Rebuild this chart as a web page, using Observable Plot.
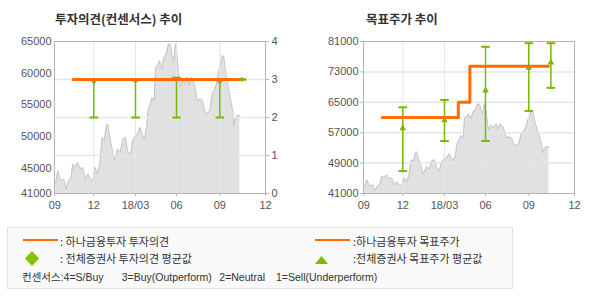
<!DOCTYPE html>
<html><head><meta charset="utf-8">
<script src="https://cdn.jsdelivr.net/npm/d3@7"></script>
<script src="https://cdn.jsdelivr.net/npm/@observablehq/plot@0.6"></script>
<style>
body{margin:0;background:#fff;}
#wrap{position:relative;width:590px;height:300px;overflow:hidden;font-family:"Noto Sans CJK KR","Noto Sans",sans-serif;color:#333;}
.abs{position:absolute;}
.title{font-weight:bold;font-size:12.5px;color:#333;top:11px;white-space:nowrap;line-height:16px;}
.lg{font-size:11px;line-height:13px;white-space:nowrap;color:#333;}
.lg3{font-size:10.5px;line-height:13px;white-space:nowrap;color:#333;font-family:"Liberation Sans","Noto Sans CJK KR",sans-serif;}
</style></head>
<body>
<div id="wrap">
  <div class="abs title" style="left:55px;">투자의견(컨센서스) 추이</div>
  <div class="abs title" style="left:366px;">목표주가 추이</div>
  <div id="leftBase" class="abs" style="left:0;top:0;"></div>
  <div id="leftTop" class="abs" style="left:0;top:0;"></div>
  <div id="right" class="abs" style="left:309px;top:0;"></div>

  <div class="abs" style="left:7px;top:227px;width:504px;height:60px;background:#f9f9f9;border:1px solid #e2e2e2;"></div>
  <div class="abs" style="left:23px;top:239px;width:35px;height:2px;background:#ff6c00;"></div>
  <div class="abs" style="left:315px;top:239px;width:35px;height:2px;background:#ff6c00;"></div>
  <svg class="abs" style="left:25px;top:251px;" width="14" height="15"><polygon points="7,0 14,7.5 7,15 0,7.5" fill="#84c300"/></svg>
  <svg class="abs" style="left:315px;top:255.5px;" width="13" height="8"><polygon points="6.5,0 13,8 0,8" fill="#7cbd00"/></svg>
  <div class="abs lg" style="left:60px;top:234.5px;">: 하나금융투자 투자의견</div>
  <div class="abs lg" style="left:353px;top:234.5px;">:하나금융투자 목표주가</div>
  <div class="abs lg" style="left:60px;top:252px;">: 전체증권사 투자의견 평균값</div>
  <div class="abs lg" style="left:353px;top:252px;">:전체증권사 목표주가 평균값</div>
  <div class="abs lg3" style="left:22px;top:270.5px;">컨센서스:4=S/Buy</div>
  <div class="abs lg3" style="left:121.7px;top:270.5px;">3=Buy(Outperform)</div>
  <div class="abs lg3" style="left:219.3px;top:270.5px;">2=Neutral</div>
  <div class="abs lg3" style="left:276px;top:270.5px;">1=Sell(Underperform)</div>
</div>
<script>
// ---- data ----
const xTickDates = ["2017-09-01","2017-12-01","2018-03-01","2018-06-01","2018-09-01","2018-12-01"];
const xTickLabels = ["09","12","18/03","06","09","12"];

const priceDates = ["2017-09-03","2017-09-08","2017-09-14","2017-09-22","2017-09-27","2017-10-03","2017-10-09","2017-10-13","2017-10-19","2017-10-24","2017-10-31","2017-11-05","2017-11-11","2017-11-17","2017-11-23","2017-11-29",
"2017-12-04","2017-12-09","2017-12-14","2017-12-19","2017-12-24","2017-12-28","2017-12-31","2018-01-04","2018-01-09","2018-01-14","2018-01-19","2018-01-21","2018-01-27","2018-02-02","2018-02-07","2018-02-12","2018-02-18","2018-02-23",
"2018-03-01","2018-03-06","2018-03-11","2018-03-16","2018-03-21","2018-03-26","2018-03-29","2018-04-02","2018-04-07","2018-04-12","2018-04-15","2018-04-20","2018-04-24","2018-04-29","2018-05-04","2018-05-09","2018-05-14","2018-05-19","2018-05-22","2018-05-26","2018-05-30",
"2018-06-02","2018-06-06","2018-06-09","2018-06-13","2018-06-18","2018-06-24","2018-06-27","2018-07-02","2018-07-08","2018-07-11","2018-07-15","2018-07-20","2018-07-26","2018-07-31","2018-08-05","2018-08-11","2018-08-16","2018-08-20","2018-08-25","2018-08-30",
"2018-09-03","2018-09-06","2018-09-09","2018-09-14","2018-09-18","2018-09-23","2018-09-27","2018-09-29","2018-10-02","2018-10-05","2018-10-11"];
const priceClose = [42750,44590,43010,43270,41690,43010,43540,45650,45120,45910,44860,45120,43270,44070,43270,43010,
45120,44070,45650,49870,49340,51710,51980,50130,48280,46170,47230,48020,47490,49600,49870,47760,46970,49340,
50130,50390,51450,50390,49600,51450,54080,54880,56190,55670,60940,61200,61990,60680,62520,63050,64630,64370,62790,61990,64630,
63050,58830,57770,59090,58300,59360,58040,59360,58570,57510,55670,55930,55670,54080,53560,54080,56720,57250,58300,60410,
61470,62790,62520,59360,57770,55670,53820,51710,52770,53290,53290];

const consDates = ["2017-12-01","2018-03-01","2018-06-01","2018-09-01","2018-10-15"];
const opinionAvg = [2.94,2.96,3.0,2.95,3.0];
const opinionMin = [2,2,2,2,3];
const opinionMax = [3,3,3.05,3,3];
const targetAvg = [58140,60250,68080,74060,75460];
const targetMin = [46900,54810,54810,62730,68790];
const targetMax = [63680,65630,79600,80550,80550];

const hanaOpinionDates = ["2017-10-14","2018-10-10"];
const hanaOpinion = [3,3];
const hanaTargetDates = ["2017-10-14","2018-04-01","2018-04-27","2018-10-10"];
const hanaTarget = [61000,65000,74500,74500];

const leftTicks = [65000,60000,55000,50000,45000,41000];
const opinionTicks = [0,1,2,3,4];
const rightTicks = [41000,49000,57000,65000,73000,81000];

// ---- build ----
const parse = d3.utcParse("%Y-%m-%d");
const price = priceDates.map((d,i)=>({date:parse(d), close:priceClose[i]}));
const cons = consDates.map((d,i)=>({date:parse(d), oAvg:opinionAvg[i], oMin:opinionMin[i], oMax:opinionMax[i], tAvg:targetAvg[i], tMin:targetMin[i], tMax:targetMax[i]}));
const hanaOp = hanaOpinionDates.map((d,i)=>({date:parse(d), v:hanaOpinion[i]}));
const hanaTp = hanaTargetDates.map((d,i)=>({date:parse(d), v:hanaTarget[i]}));
const tickDates = xTickDates.map(parse);
const labelMap = new Map(tickDates.map((d,i)=>[+d, xTickLabels[i]]));
const innerTicks = tickDates.slice(1,-1);

const ORANGE = "#ff6c00", GREEN = "#76b900", GRID = "#e6e6e6", FRAME = "#b4b4b4", TXT = "#555";
const capSymbol = {draw(ctx){ ctx.moveTo(-4.3,0); ctx.lineTo(4.3,0); }};
const xRange = [54.3,93.3,135,176,219.3,265];
const style = {fontSize:"11px", fontFamily:"'Liberation Sans', Arial, sans-serif", color:TXT, background:"transparent"};
const base = {height:215, marginLeft:54, marginTop:41, marginBottom:22, style};

// left base: price area, left axis, bottom axis
document.getElementById("leftBase").append(Plot.plot({
  ...base, width:295, marginRight:30,
  x:{type:"utc", domain:tickDates, range:xRange, axis:null, label:null},
  y:{domain:[41000,65000], axis:null, label:null},
  marks:[
    Plot.areaY(price,{x:"date", y1:41000, y2:"close", fill:"#e1e1e1", clip:true}),
    Plot.lineY(price,{x:"date", y:"close", stroke:"#c4c4c4", strokeWidth:1, clip:true}),
    Plot.axisY({ticks:leftTicks, tickFormat:d=>String(d), tickSize:0, tickPadding:3, fill:TXT, label:null}),
    Plot.axisX({ticks:tickDates, tickFormat:d=>labelMap.get(+d), tickSize:3, tickPadding:5, stroke:FRAME, fill:TXT, label:null})
  ]
}));

// left top: grid, frame, opinion marks
document.getElementById("leftTop").append(Plot.plot({
  ...base, width:295, marginRight:30,
  x:{type:"utc", domain:tickDates, range:xRange, axis:null, label:null},
  y:{domain:[0,4], axis:null, label:null},
  marks:[
    Plot.ruleX(innerTicks,{stroke:GRID}),
    Plot.ruleY([1,2,3],{stroke:GRID, strokeWidth:1.5}),
    Plot.frame({stroke:FRAME}),
    Plot.axisY({anchor:"right", ticks:opinionTicks, tickFormat:d=>String(d), tickSize:3, tickPadding:3, stroke:FRAME, fill:TXT, label:null}),
    Plot.ruleX(cons,{x:"date", y1:"oMin", y2:"oMax", stroke:GREEN, strokeWidth:1.5}),
    Plot.dot(cons,{x:"date", y:"oMin", symbol:capSymbol, stroke:GREEN, strokeWidth:2, fill:"none"}),
    Plot.dot(cons,{x:"date", y:"oMax", symbol:capSymbol, stroke:GREEN, strokeWidth:2, fill:"none"}),
    Plot.dot(cons,{x:"date", y:"oAvg", symbol:"diamond2", r:2.3, fill:GREEN, stroke:"none"}),
    Plot.lineY(hanaOp,{x:"date", y:"v", stroke:ORANGE, strokeWidth:3})
  ]
}));

// right chart: target price
document.getElementById("right").append(Plot.plot({
  ...base, width:281, marginRight:16,
  x:{type:"utc", domain:tickDates, range:xRange, axis:null, label:null},
  y:{domain:[41000,81000], axis:null, label:null},
  marks:[
    Plot.areaY(price,{x:"date", y1:41000, y2:"close", fill:"#e1e1e1", clip:true}),
    Plot.lineY(price,{x:"date", y:"close", stroke:"#c4c4c4", strokeWidth:1, clip:true}),
    Plot.ruleX(innerTicks,{stroke:GRID}),
    Plot.ruleY(rightTicks.slice(1,-1),{stroke:GRID, strokeWidth:1.5}),
    Plot.frame({stroke:FRAME}),
    Plot.axisY({ticks:rightTicks, tickFormat:d=>String(d), tickSize:3, tickPadding:2, stroke:FRAME, fill:TXT, label:null}),
    Plot.axisX({ticks:tickDates, tickFormat:d=>labelMap.get(+d), tickSize:3, tickPadding:5, stroke:FRAME, fill:TXT, label:null}),
    Plot.ruleX(cons,{x:"date", y1:"tMin", y2:"tMax", stroke:GREEN, strokeWidth:1.5}),
    Plot.dot(cons,{x:"date", y:"tMin", symbol:capSymbol, stroke:GREEN, strokeWidth:2, fill:"none"}),
    Plot.dot(cons,{x:"date", y:"tMax", symbol:capSymbol, stroke:GREEN, strokeWidth:2, fill:"none"}),
    Plot.dot(cons,{x:"date", y:"tAvg", symbol:"triangle", r:2.5, fill:GREEN, stroke:"none"}),
    Plot.line(hanaTp,{x:"date", y:"v", curve:"step-after", stroke:ORANGE, strokeWidth:3})
  ]
}));
</script>
</body></html>
